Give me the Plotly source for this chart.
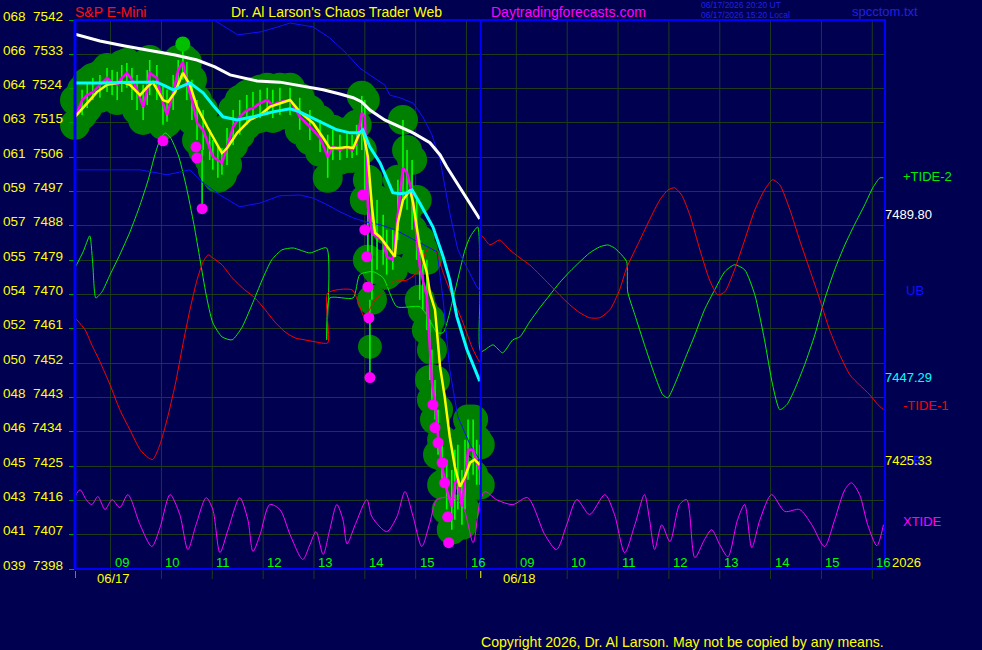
import plotly.graph_objects as go

# ---------------- data ----------------
Y_CODES = ["068", "066", "064", "063", "061", "059", "057", "055", "054",
           "052", "050", "048", "046", "045", "043", "041", "039"]
Y_TICKS = [7542, 7533, 7524, 7515, 7506, 7497, 7488, 7479, 7470,
           7461, 7452, 7443, 7434, 7425, 7416, 7407, 7398]
HOUR_VALUES = [9, 10, 11, 12, 13, 14, 15, 16]
HOUR_LABELS = ["09", "10", "11", "12", "13", "14", "15", "16"]
DAY_LABELS = ["06/17", "06/18"]

# price bars of 06/17 (clock hours, prices)
BAR_T = [8.30, 8.44, 8.54, 8.65, 8.79, 8.93, 9.03, 9.13, 9.22, 9.32, 9.42, 9.52, 9.64, 9.72,
         9.77, 9.91, 10.03, 10.11, 10.23, 10.33, 10.42, 10.50, 10.60, 10.70, 10.82, 10.95,
         11.01, 11.11, 11.19, 11.29, 11.41, 11.54, 11.68, 11.80, 11.94, 12.08, 12.19, 12.33,
         12.53, 12.72, 12.92, 13.12, 13.27, 13.37, 13.51, 13.65, 13.75, 13.84, 13.94, 14.00,
         14.06, 14.14, 14.24, 14.36, 14.43, 14.55, 14.65, 14.75, 14.83, 14.93, 15.02, 15.08,
         15.14, 15.22, 15.28, 15.32, 15.38, 15.44, 15.52, 15.61, 15.71, 15.77, 15.83, 15.91,
         15.97, 16.03, 16.13, 16.20, 16.26]
CLOSE = [7516.3, 7521.0, 7522.3, 7523.1, 7525.0, 7526.8, 7525.7, 7525.0, 7526.8, 7528.1,
         7526.3, 7523.7, 7519.2, 7523.7, 7528.1, 7526.8, 7520.2, 7517.1, 7522.9, 7528.9,
         7531.0, 7525.5, 7521.0, 7515.0, 7513.2, 7508.7, 7506.1, 7505.3, 7504.5, 7508.7,
         7514.0, 7516.6, 7518.4, 7518.9, 7520.2, 7521.0, 7519.7, 7520.5, 7521.0, 7516.6,
         7514.0, 7511.1, 7506.1, 7508.7, 7507.9, 7508.7, 7507.9, 7509.8, 7517.6, 7516.6,
         7493.0, 7486.2, 7485.1, 7484.3, 7479.9, 7479.1, 7491.4, 7503.2, 7501.9, 7496.7,
         7485.1, 7477.3, 7473.8, 7469.4, 7455.5, 7446.9, 7441.6, 7432.7, 7424.8, 7418.8,
         7414.4, 7420.6, 7421.4, 7414.4, 7421.4, 7429.3, 7429.3, 7425.9, 7424.0]
HIGH = [7521.0, 7523.7, 7525.7, 7526.8, 7527.6, 7529.4, 7528.9, 7528.4, 7530.2, 7530.7,
        7529.4, 7527.6, 7525.0, 7528.9, 7531.5, 7530.2, 7525.0, 7523.7, 7527.6, 7531.5,
        7532.0, 7531.0, 7526.3, 7521.0, 7518.4, 7513.2, 7510.5, 7509.2, 7508.4, 7513.7,
        7518.4, 7521.0, 7522.3, 7523.1, 7523.7, 7524.2, 7523.7, 7524.2, 7524.2, 7521.6,
        7518.4, 7515.8, 7511.9, 7513.2, 7511.9, 7512.6, 7511.9, 7514.5, 7522.1, 7521.0,
        7500.1, 7494.8, 7494.8, 7490.9, 7487.0, 7487.0, 7500.1, 7515.8, 7507.9, 7505.3,
        7494.8, 7484.3, 7481.7, 7479.1, 7463.4, 7455.5, 7447.6, 7439.8, 7431.9, 7426.7,
        7424.0, 7429.3, 7430.6, 7424.0, 7431.9, 7437.2, 7437.2, 7431.9, 7430.6]
LOW = [7514.5, 7517.1, 7518.9, 7521.0, 7521.6, 7523.1, 7522.3, 7521.0, 7523.1, 7524.2,
       7521.0, 7518.4, 7515.8, 7519.7, 7522.3, 7521.0, 7514.5, 7515.3, 7518.4, 7523.7,
       7526.3, 7521.0, 7515.8, 7510.5, 7507.9, 7505.3, 7502.7, 7500.6, 7501.4, 7504.0,
       7509.2, 7511.9, 7514.5, 7515.8, 7516.3, 7517.1, 7516.3, 7517.1, 7517.1, 7513.2,
       7510.5, 7507.4, 7500.6, 7505.3, 7505.3, 7505.8, 7505.8, 7506.6, 7507.9, 7494.8,
       7479.1, 7468.6, 7476.5, 7477.8, 7475.2, 7476.5, 7484.3, 7494.8, 7492.2, 7487.0,
       7479.1, 7468.6, 7466.0, 7460.7, 7447.6, 7442.4, 7437.2, 7428.0, 7420.1, 7413.6,
       7408.3, 7410.9, 7413.6, 7409.6, 7413.6, 7421.4, 7422.7, 7420.1, 7420.1]

# fast average (yellow)
FAST_T = [8.30, 8.54, 8.73, 8.93, 9.24, 9.38, 9.58, 9.72, 9.83, 10.03, 10.13, 10.27, 10.42,
          10.56, 10.70, 10.90, 11.01, 11.19, 11.29, 11.49, 11.74, 11.94, 12.13, 12.33, 12.53,
          12.72, 12.98, 13.18, 13.31, 13.51, 13.65, 13.77, 13.90, 13.96, 14.06, 14.14, 14.20,
          14.30, 14.45, 14.59, 14.65, 14.75, 14.89, 14.95, 15.08, 15.22, 15.28, 15.38, 15.48,
          15.57, 15.67, 15.77, 15.87, 15.97, 16.07, 16.16, 16.26]
FAST = [7516.6, 7520.2, 7523.1, 7525.0, 7525.7, 7525.0, 7522.3, 7524.4, 7525.7, 7521.0,
        7520.5, 7523.1, 7528.1, 7525.0, 7519.2, 7514.0, 7511.3, 7507.1, 7508.4, 7512.4,
        7515.8, 7517.1, 7519.2, 7520.2, 7521.0, 7517.9, 7515.0, 7511.1, 7508.4, 7508.4,
        7508.7, 7508.4, 7512.4, 7513.2, 7506.1, 7493.0, 7486.2, 7485.1, 7482.5, 7479.9,
        7488.8, 7494.8, 7497.4, 7494.0, 7482.5, 7475.7, 7470.4, 7466.0, 7451.0, 7443.2,
        7432.7, 7424.8, 7419.6, 7422.2, 7425.9, 7426.7, 7425.33]

# slow average (white)
SLOW_T = [8.30, 8.79, 9.28, 9.83, 10.27, 10.70, 11.05, 11.35, 11.88, 12.33, 12.72, 13.18,
          13.51, 13.77, 13.94, 14.10, 14.39, 14.69, 14.95, 15.28, 15.48, 15.61, 15.77, 15.93,
          16.11, 16.26]
SLOW = [7538.3, 7536.5, 7535.2, 7533.9, 7532.8, 7531.5, 7529.7, 7527.6, 7526.0, 7525.7,
        7524.7, 7523.7, 7522.6, 7521.6, 7520.5, 7518.4, 7515.8, 7514.0, 7512.4, 7509.8,
        7506.6, 7503.5, 7500.1, 7496.7, 7493.2, 7489.80]

# middle average (cyan)
MID_T = [8.30, 8.79, 9.44, 9.91, 10.07, 10.23, 10.56, 10.82, 11.01, 11.21, 11.49, 11.80,
         12.19, 12.53, 12.72, 13.06, 13.45, 13.71, 13.90, 13.96, 14.10, 14.30, 14.55, 14.69,
         14.83, 14.93, 15.08, 15.34, 15.54, 15.67, 15.81, 16.01, 16.15, 16.26]
MID = [7525.5, 7525.5, 7525.7, 7525.7, 7524.7, 7523.7, 7525.5, 7522.9, 7519.7, 7516.6,
       7515.8, 7516.6, 7517.9, 7518.7, 7517.9, 7515.8, 7513.2, 7512.4, 7512.4, 7513.2,
       7508.7, 7504.5, 7496.7, 7496.4, 7496.7, 7497.4, 7494.0, 7487.7, 7479.9, 7473.8,
       7464.2, 7455.5, 7450.8, 7447.29]

# upper / lower bands (blue)
UB_T = [10.76, 11.03, 11.50, 11.96, 12.29, 12.53, 12.98, 13.31, 13.61, 13.90, 14.24, 14.39,
        14.49, 14.69, 14.95, 15.14, 15.32, 15.48, 15.67, 15.83, 16.01, 16.20, 16.28]
UB = [7546.0, 7542.0, 7538.1, 7538.9, 7540.2, 7541.2, 7540.2, 7537.3, 7533.6, 7529.4,
      7526.3, 7525.0, 7522.3, 7521.6, 7520.2, 7516.6, 7511.9, 7505.3, 7491.4, 7481.7,
      7477.0, 7472.0, 7470.7]
LB_T = [8.30, 8.79, 9.58, 10.11, 10.56, 10.82, 11.15, 11.54, 11.94, 12.33, 12.72, 12.98,
        13.31, 13.51, 13.77, 14.00, 14.30, 14.59, 14.89, 15.18, 15.42, 15.54, 15.67, 15.83,
        16.07, 16.28]
LB = [7502.7, 7502.7, 7502.7, 7501.4, 7502.7, 7499.3, 7496.1, 7493.0, 7494.0, 7495.9,
      7496.1, 7495.3, 7493.2, 7491.7, 7490.1, 7489.1, 7488.3, 7487.0, 7484.9, 7483.0,
      7481.2, 7468.6, 7450.3, 7437.9, 7430.6, 7426.1]

# +TIDE-2 (green), drawn on the price scale
TIDE2_D1_T = [8.30, 8.46, 8.59, 8.65, 8.71, 8.83, 8.99, 9.18, 9.38, 9.58, 9.74, 9.87, 9.97,
              10.07, 10.17, 10.33, 10.48, 10.64, 10.76, 10.88, 11.01, 11.19, 11.39, 11.58,
              11.78, 11.98, 12.17, 12.37, 12.59, 12.92, 13.25, 13.25, 13.31, 13.77, 13.90,
              14.16, 14.36, 14.63, 15.08, 15.24, 15.42, 15.54, 15.73, 15.97, 16.07, 16.22,
              16.26]
TIDE2_D1 = [7477.0, 7481.2, 7485.4, 7477.8, 7469.1, 7470.7, 7475.2, 7480.4, 7486.4, 7493.5,
            7500.1, 7506.6, 7510.5, 7512.4, 7511.3, 7506.6, 7498.8, 7488.3, 7479.1, 7469.9,
            7462.6, 7458.9, 7458.1, 7461.3, 7467.3, 7473.8, 7479.1, 7481.7, 7482.2, 7480.9,
            7482.2, 7458.1, 7469.1, 7469.1, 7475.2, 7476.0, 7474.4, 7466.8, 7466.8, 7464.2,
            7460.0, 7460.0, 7468.6, 7481.7, 7485.1, 7487.7, 7469.1]
TIDE2_D2_T = [8.30, 8.54, 8.73, 8.93, 9.07, 9.26, 9.46, 9.66, 9.85, 10.05, 10.25, 10.44,
              10.64, 10.80, 10.93, 11.07, 11.17, 11.19, 11.33, 11.52, 11.72, 11.88, 11.98,
              12.11, 12.31, 12.51, 12.70, 12.90, 13.10, 13.29, 13.49, 13.69, 13.88, 14.04,
              14.18, 14.32, 14.47, 14.67, 14.87, 15.06, 15.26, 15.46, 15.65, 15.85, 16.01,
              16.15, 16.22]
TIDE2_D2 = [7455.0, 7456.8, 7454.7, 7458.1, 7458.9, 7462.8, 7466.5, 7469.9, 7473.1, 7476.0,
            7478.6, 7480.9, 7482.5, 7483.0, 7482.2, 7480.4, 7478.6, 7470.7, 7464.7, 7456.8,
            7448.9, 7443.7, 7442.9, 7446.3, 7452.9, 7459.4, 7466.0, 7471.2, 7476.0, 7477.8,
            7476.5, 7469.9, 7458.1, 7446.3, 7439.8, 7441.1, 7445.0, 7451.6, 7459.4, 7468.6,
            7476.5, 7483.0, 7488.3, 7493.5, 7498.0, 7500.6, 7500.6]

# -TIDE-1 (red)
TIDE1_D1_T = [8.30, 8.50, 8.63, 8.79, 8.99, 9.18, 9.38, 9.58, 9.74, 9.83, 9.97, 10.11,
              10.27, 10.42, 10.56, 10.70, 10.82, 10.92, 11.01, 11.19, 11.39, 11.64, 11.84,
              12.04, 12.23, 12.43, 12.63, 12.82, 13.02, 13.27, 13.27, 13.75, 14.00, 14.16,
              14.55, 14.83, 15.08, 15.22, 15.38, 15.54, 15.67, 15.93, 16.13, 16.28]
TIDE1_D1 = [7463.9, 7460.7, 7456.8, 7452.4, 7446.3, 7439.8, 7434.5, 7429.3, 7427.2, 7426.7,
            7430.6, 7437.2, 7446.3, 7456.8, 7466.0, 7473.8, 7478.6, 7480.4, 7479.6, 7477.8,
            7474.4, 7471.2, 7469.1, 7466.0, 7462.8, 7460.2, 7458.6, 7458.1, 7457.6, 7457.3,
            7470.4, 7471.2, 7463.9, 7467.8, 7473.3, 7473.8, 7476.5, 7481.7, 7481.7, 7475.7,
            7471.2, 7462.6, 7455.5, 7452.1]
TIDE1_D2_T = [8.30, 8.48, 8.67, 8.87, 9.07, 9.26, 9.46, 9.66, 9.85, 10.05, 10.25, 10.44,
              10.64, 10.84, 11.03, 11.17, 11.43, 11.62, 11.82, 11.98, 12.11, 12.25, 12.41,
              12.61, 12.80, 12.96, 13.10, 13.29, 13.49, 13.69, 13.88, 14.04, 14.18, 14.38,
              14.57, 14.77, 14.97, 15.16, 15.36, 15.56, 15.75, 15.95, 16.11, 16.22]
TIDE1_D2 = [7485.6, 7483.0, 7484.3, 7481.7, 7479.6, 7477.8, 7475.2, 7472.5, 7469.9, 7467.3,
            7465.2, 7463.9, 7463.9, 7466.0, 7471.2, 7477.0, 7484.3, 7489.6, 7494.8, 7497.4,
            7498.0, 7496.1, 7490.9, 7481.7, 7473.8, 7469.9, 7470.7, 7476.5, 7484.3, 7492.2,
            7497.4, 7500.1, 7498.8, 7492.2, 7484.3, 7476.5, 7468.6, 7460.7, 7454.2, 7448.9,
            7446.3, 7443.7, 7441.1, 7439.8]

# XTIDE (magenta)
XT_D1_T = [8.30, 8.40, 8.52, 8.63, 8.75, 8.89, 9.03, 9.18, 9.34, 9.58, 9.81, 9.97, 10.17,
           10.36, 10.52, 10.68, 10.88, 11.01, 11.15, 11.31, 11.54, 11.70, 11.80, 11.94, 12.13,
           12.33, 12.53, 12.78, 12.92, 13.04, 13.18, 13.31, 13.45, 13.57, 13.65, 13.81, 14.04,
           14.14, 14.43, 14.63, 14.79, 14.95, 15.12, 15.28, 15.42, 15.73, 15.93, 16.13, 16.26]
XT_D1 = [7417.0, 7418.8, 7416.2, 7414.9, 7417.0, 7413.6, 7416.2, 7414.1, 7417.5, 7409.6,
         7403.9, 7408.8, 7417.5, 7412.3, 7403.1, 7409.6, 7416.7, 7413.6, 7402.3, 7408.3,
         7416.7, 7410.9, 7402.6, 7407.0, 7414.9, 7413.6, 7407.0, 7400.5, 7404.4, 7407.8,
         7401.8, 7408.3, 7414.9, 7410.9, 7404.6, 7409.6, 7416.2, 7411.7, 7407.8, 7411.7,
         7418.3, 7411.7, 7403.9, 7410.2, 7416.2, 7416.7, 7414.4, 7404.9, 7415.4]
XT_D2_T = [8.38, 8.61, 8.93, 9.22, 9.56, 9.79, 9.99, 10.19, 10.44, 10.74, 10.93, 11.13,
           11.33, 11.52, 11.62, 11.72, 11.86, 12.02, 12.21, 12.35, 12.51, 12.70, 12.84, 13.00,
           13.16, 13.35, 13.49, 13.63, 13.79, 14.02, 14.28, 14.57, 14.81, 15.06, 15.26, 15.46,
           15.59, 15.75, 15.91, 16.09, 16.22]
XT_D2 = [7418.3, 7416.2, 7414.9, 7416.7, 7407.0, 7403.1, 7409.6, 7416.2, 7412.3, 7417.5,
         7412.3, 7402.3, 7409.6, 7417.5, 7410.9, 7403.1, 7409.6, 7405.2, 7414.9, 7416.2,
         7401.0, 7405.7, 7408.3, 7404.4, 7401.2, 7410.9, 7414.9, 7403.6, 7410.9, 7417.5,
         7413.1, 7413.6, 7409.6, 7403.9, 7410.9, 7418.8, 7420.6, 7417.5, 7409.6, 7404.1,
         7409.6]

# signal dots (magenta), spikes and extra markers
DOT_T = [10.03, 10.68, 10.70, 10.80, 13.96, 14.00, 14.04, 14.06, 14.08, 14.10,
         15.34, 15.38, 15.44, 15.52, 15.57, 15.63, 15.65]
DOT_P = [7510.3, 7508.7, 7505.8, 7492.5, 7496.1, 7487.0, 7479.9, 7472.0, 7463.9, 7448.2,
         7441.1, 7435.1, 7431.1, 7425.9, 7420.6, 7411.7, 7404.9]
SPIKE_T = [10.42, 10.80, 14.10]
SPIKE_FROM = [7531.0, 7507.9, 7468.6]
SPIKE_TO = [7535.7, 7492.5, 7448.2]
TOP_DOT_T = [10.42]
TOP_DOT_P = [7535.7]
EXTRA_BLOB_T = [14.10]
EXTRA_BLOB_P = [7456.3]

SESSION_OPEN = 8.30
SESSION_SPAN = 7.98
X_END = 15.93


def pos(hours, day):
    return [h - SESSION_OPEN + SESSION_SPAN * day for h in hours]


# ---------------- layout helpers ----------------
W, H = 982, 650
ML, MR, MT, MB = 75, 97, 20, 81
PW, PH = W - ML - MR, H - MT - MB


def fx(px):
    return (px - ML) / PW


def fy(py):
    return (H - MB - py) / PH


BG = "#000050"
GRID = "#1c3c1c"
BLUE = "#0000ff"
FONT = "Liberation Sans, Arial, sans-serif"

fig = go.Figure()

bx = pos(BAR_T, 0)

# dark green blobs at highs and lows
fig.add_trace(go.Scatter(x=bx + bx, y=HIGH + LOW, mode="markers", cliponaxis=False,
                         marker=dict(size=30, color="#008000", line=dict(width=0)),
                         hoverinfo="skip"))
fig.add_trace(go.Scatter(x=pos(EXTRA_BLOB_T, 0), y=EXTRA_BLOB_P, mode="markers",
                         marker=dict(size=24, color="#008000", line=dict(width=0))))

# light green bars
bar_x, bar_y = [], []
for t, lo, hi in zip(bx, LOW, HIGH):
    bar_x += [t, t, None]
    bar_y += [lo, hi, None]
fig.add_trace(go.Scatter(x=bar_x, y=bar_y, mode="lines",
                         line=dict(color="#00ff00", width=1.6)))

sx, sy = [], []
for t, a, b in zip(pos(SPIKE_T, 0), SPIKE_FROM, SPIKE_TO):
    sx += [t, t, None]
    sy += [a, b, None]
fig.add_trace(go.Scatter(x=sx, y=sy, mode="lines", line=dict(color="#00ff00", width=1.5)))

# tides
fig.add_trace(go.Scatter(x=pos(TIDE2_D1_T, 0) + pos(TIDE2_D2_T, 1), y=TIDE2_D1 + TIDE2_D2,
                         mode="lines", line=dict(color="#00ee00", width=1, shape="spline",
                                                 smoothing=0.6)))
fig.add_trace(go.Scatter(x=pos(TIDE1_D1_T, 0) + pos(TIDE1_D2_T, 1), y=TIDE1_D1 + TIDE1_D2,
                         mode="lines", line=dict(color="#ff0000", width=1, shape="spline",
                                                 smoothing=0.6)))
fig.add_trace(go.Scatter(x=pos(XT_D1_T, 0) + pos(XT_D2_T, 1), y=XT_D1 + XT_D2,
                         mode="lines", line=dict(color="#ff00ff", width=1, shape="spline",
                                                 smoothing=0.8)))

# bands
fig.add_trace(go.Scatter(x=pos(UB_T, 0), y=UB, mode="lines", line=dict(color="#1010ff", width=1)))
fig.add_trace(go.Scatter(x=pos(LB_T, 0), y=LB, mode="lines", line=dict(color="#1010ff", width=1)))

# price and averages
fig.add_trace(go.Scatter(x=bx, y=CLOSE, mode="lines", line=dict(color="#ff00ff", width=2.5)))
fig.add_trace(go.Scatter(x=pos(FAST_T, 0), y=FAST, mode="lines",
                         line=dict(color="#ffff00", width=2.5)))
fig.add_trace(go.Scatter(x=pos(MID_T, 0), y=MID, mode="lines",
                         line=dict(color="#00ffff", width=3)))
fig.add_trace(go.Scatter(x=pos(SLOW_T, 0), y=SLOW, mode="lines",
                         line=dict(color="#ffffff", width=3)))

# dots
fig.add_trace(go.Scatter(x=pos(DOT_T, 0), y=DOT_P, mode="markers",
                         marker=dict(size=11, color="#ff00ff", line=dict(width=0))))
fig.add_trace(go.Scatter(x=pos(TOP_DOT_T, 0), y=TOP_DOT_P, mode="markers",
                         marker=dict(size=15, color="#00c000", line=dict(width=0))))

shapes = []
# hour grid lines (extend a little below the plot)
for d in (0, 1):
    for xv in pos(HOUR_VALUES, d):
        shapes.append(dict(type="line", xref="x", yref="paper", x0=xv, x1=xv,
                           y0=fy(579), y1=1, layer="below",
                           line=dict(color=GRID, width=1)))
    x0 = pos([SESSION_OPEN], d)[0]
    shapes.append(dict(type="line", xref="x", yref="paper", x0=x0, x1=x0,
                       y0=fy(578), y1=fy(571), line=dict(color="#ffff00", width=1)))
# frame
shapes.append(dict(type="rect", xref="paper", yref="paper", x0=0, x1=1, y0=0, y1=1,
                   line=dict(color=BLUE, width=2)))
shapes.append(dict(type="line", xref="paper", yref="paper", x0=0, x1=0, y0=0, y1=1,
                   line=dict(color=BLUE, width=3)))
now_x = pos([SESSION_OPEN], 1)[0]
shapes.append(dict(type="line", xref="x", yref="paper", x0=now_x, x1=now_x, y0=0, y1=1,
                   line=dict(color=BLUE, width=2)))

ann = []


def txt(text, x, y, color, size, xanchor="left", xref="paper", yref="paper",
        xshift=0, yshift=0):
    ann.append(dict(text=text, x=x, y=y, xref=xref, yref=yref, xanchor=xanchor,
                    yanchor="middle", showarrow=False, xshift=xshift, yshift=yshift,
                    font=dict(family=FONT, size=size, color=color)))


for code, v in zip(Y_CODES, Y_TICKS):
    txt(code, fx(1), v, "#ffff00", 13.5, yref="y", yshift=4)
    txt(str(v), fx(65), v, "#ffff00", 13.5, xanchor="right", yref="y", yshift=4)

for d in (0, 1):
    for lab, xv in zip(HOUR_LABELS, pos(HOUR_VALUES, d)):
        txt(lab, xv, fy(562), "#00ff00", 13, xref="x", xshift=2)
    txt(DAY_LABELS[d], pos([SESSION_OPEN], d)[0], fy(578), "#ffff00", 13, xref="x", xshift=20)

txt("S&P E-Mini", fx(73), fy(12), "#ff1010", 14)
txt("Dr. Al Larson's Chaos Trader Web", fx(229), fy(12), "#ffff00", 14)
txt("Daytradingforecasts.com", fx(489), fy(12), "#ff00ff", 14)
txt("06/17/2026 20:20 UT", fx(699), fy(5), "#2020e0", 8.5)
txt("06/17/2026 15:20 Local", fx(699), fy(15), "#2020e0", 8.5)
txt("spcctom.txt", fx(850), fy(12), "#2020e0", 13)
txt("2026", fx(890), fy(562), "#ffff00", 13)
txt("Copyright 2026, Dr. Al Larson. May not be copied by any means.", fx(479), fy(642),
    "#ffff00", 14.1)

# right-hand labels at series end values
txt("+TIDE-2", 1, TIDE2_D2[-1], "#00ee00", 13, yref="y", xshift=16, yshift=1)
txt("%.2f" % SLOW[-1], 1, SLOW[-1], "#ffffff", 13, yref="y", xshift=-2, yshift=5)
txt("UB", 1, UB[-1], "#1010ff", 13, yref="y", xshift=19, yshift=1)
txt("%.2f" % MID[-1], 1, MID[-1], "#00ffff", 13, yref="y", xshift=-2, yshift=4)
txt("-TIDE-1", 1, TIDE1_D2[-1], "#ff0000", 13, yref="y", xshift=16, yshift=4)
txt("LB", 1, LB[-1], "#1010ff", 13, yref="y", xshift=19, yshift=1)
txt("%.2f" % FAST[-1], 1, FAST[-1], "#ffff00", 13, yref="y", xshift=-2, yshift=4)
txt("XTIDE", 1, XT_D2[-1], "#ff00ff", 13, yref="y", xshift=16, yshift=3)

fig.update_layout(
    width=W, height=H, margin=dict(l=ML, r=MR, t=MT, b=MB),
    paper_bgcolor=BG, plot_bgcolor=BG, showlegend=False, hovermode=False,
    shapes=shapes, annotations=ann,
    xaxis=dict(range=[0, X_END], showgrid=False, zeroline=False, showticklabels=False,
               showline=False, ticks=""),
    yaxis=dict(range=[Y_TICKS[-1], Y_TICKS[0]], tickvals=Y_TICKS, showticklabels=False,
               showgrid=True, gridcolor=GRID, gridwidth=1, zeroline=False, showline=False,
               ticks="outside", ticklen=5, tickcolor="#00a000"),
)

fig.write_html("out.html", config={"displayModeBar": False, "staticPlot": True},
               post_script="document.body.style.margin='0';"
                           "document.body.style.overflow='hidden';")
